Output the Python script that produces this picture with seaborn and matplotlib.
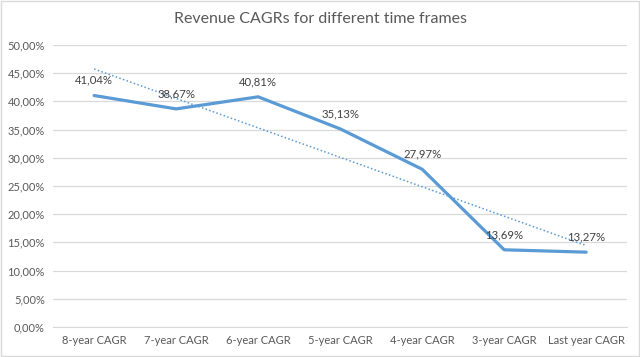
import numpy as np
import pandas as pd
import matplotlib
matplotlib.use('Agg')
import matplotlib.pyplot as plt
import seaborn as sns
from matplotlib.ticker import FuncFormatter

# Data
categories = ['8-year CAGR', '7-year CAGR', '6-year CAGR', '5-year CAGR',
              '4-year CAGR', '3-year CAGR', 'Last year CAGR']
cagr = [41.04, 38.67, 40.81, 35.13, 27.97, 13.69, 13.27]
y_ticks = [0, 5, 10, 15, 20, 25, 30, 35, 40, 45, 50]

df = pd.DataFrame({'pos': np.arange(len(categories)), 'category': categories, 'cagr': cagr})

sns.set_style('white')
plt.rcParams['font.family'] = ['Lato', 'DejaVu Sans']

line_color = '#5B9BD5'
text_color = '#595959'

fig = plt.figure(figsize=(6.4, 3.57), dpi=100)
ax = fig.add_axes([0.083, 0.084, 0.897, 0.79])

sns.lineplot(data=df, x='pos', y='cagr', ax=ax, color=line_color, linewidth=2.3)

# dotted linear trendline
sns.regplot(data=df, x='pos', y='cagr', ax=ax, scatter=False, ci=None, truncate=True,
            line_kws=dict(color=line_color, linestyle=(0, (1, 1.5)), linewidth=1.1))

for x, v in zip(df['pos'], df['cagr']):
    ax.annotate(f'{v:.2f}%'.replace('.', ','), (x, v), xytext=(0, 7),
                textcoords='offset points', ha='center', va='bottom',
                fontsize=8.2, color='#404040')

ax.set_xlim(-0.5, len(categories) - 0.5)
ax.set_ylim(0, 50)
ax.set_yticks(y_ticks)
ax.yaxis.set_major_formatter(FuncFormatter(lambda v, p: f'{v:.2f}%'.replace('.', ',')))
ax.set_xticks(df['pos'])
ax.set_xticklabels(categories)
ax.set_xlabel('')
ax.set_ylabel('')
ax.grid(axis='y', color='#D9D9D9', linewidth=0.9)
ax.set_axisbelow(True)
for s in ['top', 'right', 'left']:
    ax.spines[s].set_visible(False)
ax.spines['bottom'].set_color('#D9D9D9')
ax.tick_params(axis='both', length=0, labelsize=8, colors=text_color, pad=6)

fig.suptitle('Revenue CAGRs for different time frames', x=0.5, y=0.965,
             fontsize=11.5, color=text_color)

fig.patches.append(plt.Rectangle((0.001, 0.002), 0.997, 0.995, transform=fig.transFigure,
                                 fill=False, edgecolor='#D9D9D9', linewidth=1))

fig.savefig('out.png', dpi=100)
